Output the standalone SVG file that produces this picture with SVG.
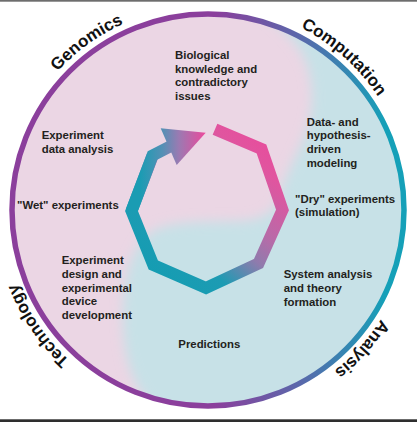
<svg xmlns="http://www.w3.org/2000/svg" width="417" height="422" viewBox="0 0 417 422">
<style>
.lbl{font-family:"Liberation Sans",Arial,sans-serif;font-weight:bold;font-size:11.4px;fill:#231f20}
.arc{font-family:"Liberation Sans",Arial,sans-serif;font-weight:bold;font-size:17px;fill:#111;text-anchor:middle}
.loop{fill:none;stroke-width:12;stroke-linejoin:miter;stroke-miterlimit:4;stroke-linecap:butt}
</style>
<defs>
<clipPath id="inner"><circle cx="208" cy="210" r="196"/></clipPath>
<filter id="soft" x="-20%" y="-20%" width="140%" height="140%"><feGaussianBlur stdDeviation="6"/></filter>
<linearGradient id="ringGrad" gradientUnits="userSpaceOnUse" x1="215" y1="0" x2="385" y2="0">
<stop offset="0" stop-color="#8b3f9c"/><stop offset="0.5" stop-color="#5a68ab"/><stop offset="1" stop-color="#15a0b8"/>
</linearGradient>
<linearGradient id="loopGrad" gradientUnits="userSpaceOnUse" x1="150" y1="280" x2="270" y2="140">
<stop offset="0" stop-color="#139db2"/><stop offset="0.25" stop-color="#1d9bb3"/><stop offset="0.45" stop-color="#8f7bad"/><stop offset="0.6" stop-color="#b96aa8"/><stop offset="0.85" stop-color="#e0559f"/><stop offset="1" stop-color="#e84c9c"/>
</linearGradient>
<linearGradient id="headGrad" gradientUnits="userSpaceOnUse" x1="140" y1="0" x2="205" y2="0">
<stop offset="0" stop-color="#1a9cb3"/><stop offset="0.35" stop-color="#5590b5"/><stop offset="0.6" stop-color="#9b7ab2"/><stop offset="1" stop-color="#ea4a9c"/>
</linearGradient>
<path id="textCircle" d="M 3.5,210 A 204.5 204.5 0 1 1 412.5,210 A 204.5 204.5 0 1 1 3.5,210"/>
</defs>
<rect x="0" y="0" width="417" height="422" fill="#ffffff"/>
<rect x="0" y="0" width="417" height="1.7" fill="#6d6d6d"/>
<rect x="0" y="419.3" width="417" height="2.7" fill="#2e2e2e"/>
<g id="background">
<circle cx="208" cy="210" r="196" fill="#ebd6e4"/>
<g clip-path="url(#inner)">
<path filter="url(#soft)" fill="#c7e1e7" d="M 240,-10 C 255,10 285,25 300,50 C 315,75 315,110 305,135 C 296,158 285,175 280,195 C 276,210 265,220 240,221 C 210,222 175,220 155,230 C 132,242 124,275 123,310 C 122,345 128,375 145,398 L 160,430 L 430,430 L 430,-10 Z"/>
</g>
</g>
<g id="ring">
<circle cx="208" cy="210" r="196" fill="none" stroke="url(#ringGrad)" stroke-width="5.5"/>
</g>
<g id="sectors">
<text class="arc"><textPath href="#textCircle" startOffset="15.03%">Genomics</textPath></text>
<text class="arc"><textPath href="#textCircle" startOffset="36.57%">Computation</textPath></text>
<text class="arc"><textPath href="#textCircle" startOffset="61.7%">Analysis</textPath></text>
<text class="arc"><textPath href="#textCircle" startOffset="90.5%">Technology</textPath></text>
</g>
<g id="connectors">
<path class="loop" stroke="url(#loopGrad)" d="M 215,129.2 L 261.5,149 L 282.5,210 L 258.5,263.5 L 206,288 L 153.3,265 L 131.5,211 L 152.5,156"/>
<path class="loop" stroke="url(#headGrad)" d="M 131.5,211 L 152.5,155.5 L 170,146.5"/>
<polygon fill="url(#headGrad)" points="160.7,128.3 205.7,132.7 176.7,165"/>
</g>
<g id="node-knowledge"><text class="lbl" x="175" y="58.8">Biological<tspan x="175" dy="13.7">knowledge and</tspan><tspan x="175" dy="13.7">contradictory</tspan><tspan x="175" dy="13.7">issues</tspan></text></g>
<g id="node-modeling"><text class="lbl" x="306.7" y="125.5">Data- and<tspan x="306.7" dy="13.7">hypothesis-</tspan><tspan x="306.7" dy="13.7">driven</tspan><tspan x="306.7" dy="13.7">modeling</tspan></text></g>
<g id="node-dry"><text class="lbl" x="295" y="202.5">"Dry" experiments<tspan x="295" dy="13.7">(simulation)</tspan></text></g>
<g id="node-system"><text class="lbl" x="283.7" y="278.2">System analysis<tspan x="283.7" dy="13.7">and theory</tspan><tspan x="283.7" dy="13.7">formation</tspan></text></g>
<g id="node-predictions"><text class="lbl" x="178.3" y="348.2">Predictions</text></g>
<g id="node-design"><text class="lbl" x="61.7" y="264.2">Experiment<tspan x="61.7" dy="13.7">design and</tspan><tspan x="61.7" dy="13.7">experimental</tspan><tspan x="61.7" dy="13.7">device</tspan><tspan x="61.7" dy="13.7">development</tspan></text></g>
<g id="node-wet"><text class="lbl" x="17" y="209">"Wet" experiments</text></g>
<g id="node-dataanalysis"><text class="lbl" x="41.7" y="138.9">Experiment<tspan x="41.7" dy="13.7">data analysis</tspan></text></g>
</svg>
